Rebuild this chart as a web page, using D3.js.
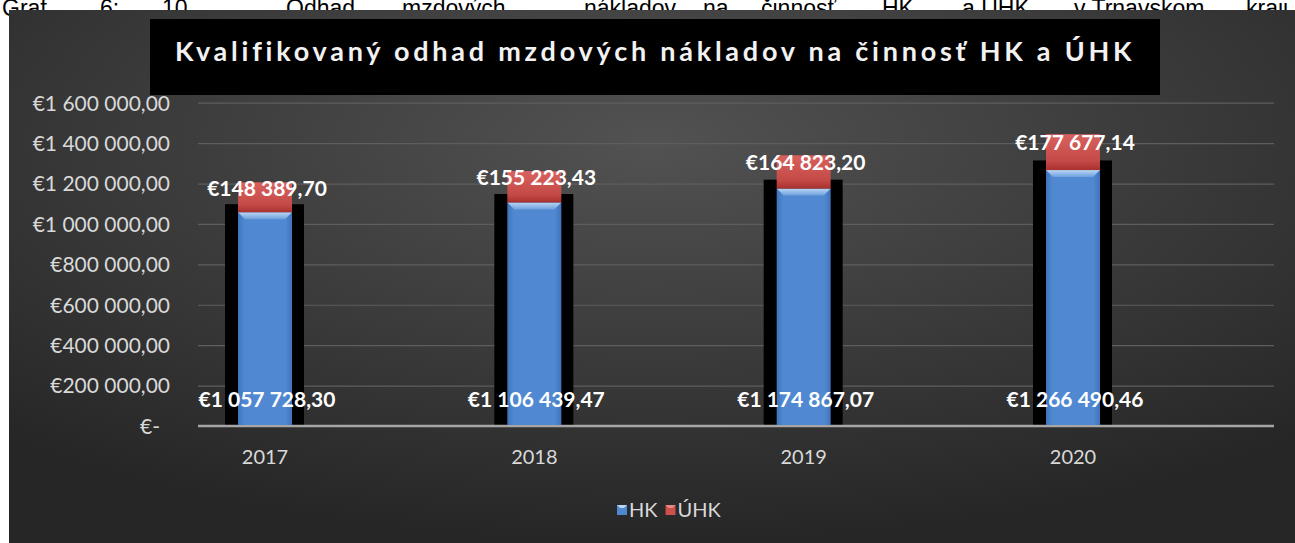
<!DOCTYPE html>
<html>
<head>
<meta charset="utf-8">
<script src="https://cdn.jsdelivr.net/npm/d3@7"></script>
<style>
  body { margin: 0; background: #fff; }
  svg { display: block; }
</style>
</head>
<body>
<div id="container"></div>
<script>
let years = ['2017', '2018', '2019', '2020'];
let hk = [1057728.30, 1106439.47, 1174867.07, 1266490.46];
let uhk = [148389.70, 155223.43, 164823.20, 177677.14];
let yTicks = [0, 200000, 400000, 600000, 800000, 1000000, 1200000, 1400000, 1600000];
let title = 'Kvalifikovaný odhad mzdových nákladov na činnosť HK a ÚHK';
let caption = ['Graf', '6:', '10', 'Odhad', 'mzdových', 'nákladov', 'na', 'činnosť', 'HK', 'a ÚHK', 'v Trnavskom', 'kraji'];
let captionX = [2, 100, 162, 286, 402, 584, 703, 761, 882, 962, 1074, 1246];
let seriesNames = ['HK', 'ÚHK'];

let width = 1295;
let height = 543;
let font = 'Lato, "Open Sans", sans-serif';

let svg = d3.select('#container').append('svg')
    .attr('width', width).attr('height', height);

// caption line above the chart (mostly hidden behind it)
svg.append('g').selectAll('text')
    .data(caption).enter()
    .append('text')
    .attr('x', (d, i) => captionX[i])
    .attr('y', 16)
    .attr('font-family', 'Arial, "Liberation Sans", sans-serif')
    .attr('font-size', 23)
    .attr('fill', '#000')
    .text(d => d);

let defs = svg.append('defs');
let bg = defs.append('radialGradient').attr('id', 'bg')
    .attr('cx', '50%').attr('cy', '25%').attr('r', '75%');
bg.append('stop').attr('offset', '0%').attr('stop-color', '#525252');
bg.append('stop').attr('offset', '100%').attr('stop-color', '#262626');

let blueGrad = defs.append('linearGradient').attr('id', 'blueGrad')
    .attr('x1', 0).attr('x2', 1).attr('y1', 0).attr('y2', 0);
blueGrad.append('stop').attr('offset', '0%').attr('stop-color', '#3f74bb');
blueGrad.append('stop').attr('offset', '12%').attr('stop-color', '#5089d2');
blueGrad.append('stop').attr('offset', '88%').attr('stop-color', '#5089d2');
blueGrad.append('stop').attr('offset', '100%').attr('stop-color', '#3f74bb');

let blueTop = defs.append('linearGradient').attr('id', 'blueTop')
    .attr('x1', 0).attr('x2', 0).attr('y1', 0).attr('y2', 1);
blueTop.append('stop').attr('offset', '0%').attr('stop-color', '#b9d6f5');
blueTop.append('stop').attr('offset', '100%').attr('stop-color', '#6e9fdc');

let redGrad = defs.append('linearGradient').attr('id', 'redGrad')
    .attr('x1', 0).attr('x2', 0).attr('y1', 0).attr('y2', 1);
redGrad.append('stop').attr('offset', '0%').attr('stop-color', '#d8615e');
redGrad.append('stop').attr('offset', '75%').attr('stop-color', '#c44a47');
redGrad.append('stop').attr('offset', '100%').attr('stop-color', '#a8302e');

// chart area
svg.append('rect')
    .attr('x', 9).attr('y', 10)
    .attr('width', width - 9).attr('height', height - 10)
    .attr('fill', 'url(#bg)');

let x = d3.scalePoint().domain(years).range([265, 1073]);
let y = d3.scaleLinear().domain([0, 1600000]).range([426, 102.7]);
let plotLeft = 198, plotRight = 1274;

// gridlines + y labels
let yAxis = d3.axisLeft(y)
    .tickValues(yTicks)
    .tickSize(-(plotRight - plotLeft))
    .tickPadding(28)
    .tickFormat(d => d === 0 ? '€-' : '€' + d3.format(',.2f')(d).replace(/,/g, ' ').replace('.', ','));

let yg = svg.append('g')
    .attr('transform', 'translate(' + plotLeft + ',0)')
    .call(yAxis);
yg.select('.domain').remove();
yg.selectAll('.tick line').attr('stroke', '#5e5e5e').attr('stroke-width', 1.2);
yg.selectAll('.tick text')
    .attr('fill', '#d9d9d9')
    .attr('font-family', font)
    .attr('font-size', 21)
    .attr('dy', '0.35em')
    .attr('dx', d => d === 0 ? -10 : 0);

let stacked = years.map((yr, i) => ({ year: yr, hk: hk[i], uhk: uhk[i], total: hk[i] + uhk[i] }));

// black backing shapes
svg.append('g').selectAll('rect')
    .data(stacked).enter()
    .append('rect')
    .attr('x', d => x(d.year) - 40)
    .attr('width', 79)
    .attr('y', d => y(d.total * 0.91))
    .attr('height', d => y(0) - y(d.total * 0.91))
    .attr('fill', '#000');

// zero line
svg.append('line')
    .attr('x1', plotLeft).attr('x2', plotRight)
    .attr('y1', y(0)).attr('y2', y(0))
    .attr('stroke', '#a6a6a6').attr('stroke-width', 2.5);

let barW = 54;
let bars = svg.append('g').selectAll('g')
    .data(stacked).enter()
    .append('g');

bars.append('rect')
    .attr('x', d => x(d.year) - barW / 2)
    .attr('width', barW)
    .attr('y', d => y(d.hk))
    .attr('height', d => y(0) - y(d.hk) - 1)
    .attr('fill', 'url(#blueGrad)');

bars.append('path')
    .attr('d', d => {
        let x0 = x(d.year) - barW / 2, x1 = x0 + barW, t = y(d.hk);
        return 'M' + x0 + ',' + t + 'L' + x1 + ',' + t + 'L' + (x1 - 7) + ',' + (t + 7) + 'L' + (x0 + 7) + ',' + (t + 7) + 'Z';
    })
    .attr('fill', 'url(#blueTop)');

bars.append('rect')
    .attr('x', d => x(d.year) - barW / 2)
    .attr('width', barW)
    .attr('y', d => y(d.total))
    .attr('height', d => y(d.hk) - y(d.total))
    .attr('fill', 'url(#redGrad)');

// data labels
let money = v => '€' + d3.format(',.2f')(v).replace(/,/g, ' ').replace('.', ',');

bars.append('text')
    .attr('x', d => x(d.year) + 2)
    .attr('y', d => (y(d.total) + y(d.hk)) / 2 - 9)
    .attr('dy', '0.35em')
    .attr('text-anchor', 'middle')
    .attr('font-family', font)
    .attr('font-weight', 'bold')
    .attr('font-size', 21)
    .attr('fill', '#fff')
    .text(d => money(d.uhk));

bars.append('text')
    .attr('x', d => x(d.year) + 2)
    .attr('y', 400)
    .attr('dy', '0.35em')
    .attr('text-anchor', 'middle')
    .attr('font-family', font)
    .attr('font-weight', 'bold')
    .attr('font-size', 21)
    .attr('fill', '#fff')
    .text(d => money(d.hk));

// x labels
svg.append('g').selectAll('text')
    .data(years).enter()
    .append('text')
    .attr('x', d => x(d))
    .attr('y', 464)
    .attr('text-anchor', 'middle')
    .attr('font-family', font)
    .attr('font-size', 20)
    .attr('fill', '#d9d9d9')
    .text(d => d);

// title box
svg.append('rect')
    .attr('x', 150).attr('y', 19)
    .attr('width', 1010).attr('height', 76)
    .attr('fill', '#000');

let titleText = svg.append('text')
    .attr('x', 175).attr('y', 61)
    .attr('font-family', font)
    .attr('font-weight', 'bold')
    .attr('font-size', 27)
    .attr('fill', '#f2f2f2')
    .text(title);
let tw = titleText.node().getComputedTextLength();
titleText.attr('letter-spacing', ((960 - tw) / title.length) + 'px');

// legend
let legendColors = ['#4f87d0', '#cf4f4c'];
let lx = 617;
seriesNames.forEach((name, i) => {
    let g = svg.append('g');
    g.append('rect')
        .attr('x', lx).attr('y', 505)
        .attr('width', 10).attr('height', 10)
        .attr('fill', legendColors[i]);
    g.append('path')
        .attr('d', 'M' + lx + ',505L' + (lx + 10) + ',505L' + (lx + 7) + ',508L' + (lx + 3) + ',508Z')
        .attr('fill', i === 0 ? '#b9d6f5' : '#e58a88');
    let t = g.append('text')
        .attr('x', lx + 12).attr('y', 510)
        .attr('dy', '0.35em')
        .attr('font-family', font)
        .attr('font-size', 20)
        .attr('fill', '#d9d9d9')
        .text(name);
    lx += 12 + t.node().getComputedTextLength() + 8;
});
</script>
</body>
</html>
